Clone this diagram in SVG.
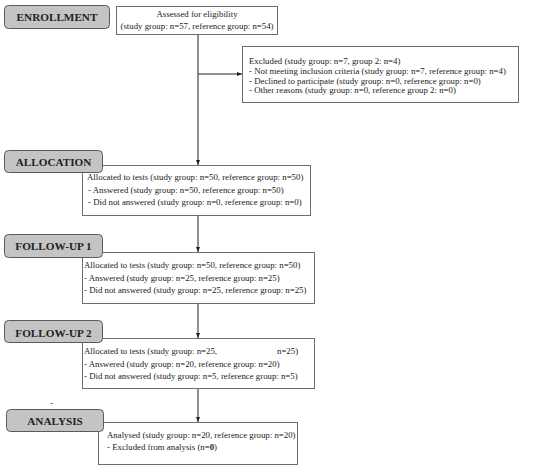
<svg xmlns="http://www.w3.org/2000/svg" width="550" height="468" viewBox="0 0 550 468">
<style>
.stage{fill:#c4c4c4;stroke:#5a5a5a;stroke-width:1}
.box{fill:#fff;stroke:#6e6e6e;stroke-width:1}
.h{font-family:"Liberation Serif","Times New Roman",serif;font-weight:bold;font-size:11.2px;fill:#222;text-anchor:middle}
.t{font-family:"Liberation Serif","Times New Roman",serif;font-size:8.8px;fill:#222}
.c{text-anchor:middle}
.ln{stroke:#222;stroke-width:1;fill:none}
</style>
<defs>
<marker id="ah" markerWidth="5" markerHeight="4" refX="5" refY="2" orient="auto" markerUnits="userSpaceOnUse">
<path d="M0,0 L5,2 L0,4 Z" fill="#222"/>
</marker>
</defs>
<rect width="550" height="468" fill="#fff"/>
<g id="connectors">
<line class="ln" x1="198" y1="35" x2="198" y2="165" marker-end="url(#ah)"/>
<line class="ln" x1="198" y1="74" x2="242" y2="74" marker-end="url(#ah)"/>
<line class="ln" x1="198" y1="216" x2="198" y2="252" marker-end="url(#ah)"/>
<line class="ln" x1="198" y1="304" x2="198" y2="338" marker-end="url(#ah)"/>
<line class="ln" x1="198" y1="389" x2="198" y2="422" marker-end="url(#ah)"/>
</g>
<g id="assessed">
<rect class="box" x="116.5" y="6.5" width="161" height="28"/>
<text class="t c" x="197" y="17">Assessed for eligibility</text>
<text class="t c" x="197" y="29">(study group: n=57, reference group: n=54)</text>
</g>
<g id="excluded">
<rect class="box" x="242.5" y="46.5" width="276" height="56"/>
<text class="t" x="249" y="64">Excluded  (study group: n=7, group 2: n=4)</text>
<text class="t" x="249" y="74">- Not meeting inclusion criteria (study group: n=7, reference group: n=4)</text>
<text class="t" x="249" y="83.5">- Declined to participate (study group: n=0, reference group: n=0)</text>
<text class="t" x="249" y="93">- Other reasons (study group: n=0, reference group 2: n=0)</text>
</g>
<g id="allocation-box">
<rect class="box" x="82.5" y="165.5" width="228" height="50"/>
<text class="t" x="87" y="180">Allocated to tests (study group: n=50, reference group: n=50)</text>
<text class="t" x="88" y="192.5"> - Answered (study group: n=50, reference group: n=50)</text>
<text class="t" x="88" y="205"> - Did not answered (study group: n=0, reference group: n=0)</text>
</g>
<g id="followup1-box">
<rect class="box" x="82.5" y="252.5" width="232" height="51"/>
<text class="t" x="84" y="268">Allocated to tests (study group: n=50, reference group: n=50)</text>
<text class="t" x="84" y="280.5">- Answered (study group: n=25, reference group: n=25)</text>
<text class="t" x="84" y="293">- Did not answered (study group: n=25, reference group: n=25)</text>
</g>
<g id="followup2-box">
<rect class="box" x="82.5" y="338.5" width="232" height="50"/>
<text class="t" x="84" y="354">Allocated to tests (study group: n=25,</text>
<text class="t" x="277" y="354">n=25)</text>
<text class="t" x="84" y="366.5">- Answered (study group: n=20, reference group: n=20)</text>
<text class="t" x="84" y="378.5">- Did not answered (study group: n=5, reference group: n=5)</text>
</g>
<g id="analysis-box">
<rect class="box" x="98.5" y="422.5" width="199" height="42"/>
<text class="t" x="107" y="438">Analysed  (study group: n=20, reference group: n=20)</text>
<text class="t" x="107" y="450">- Excluded from analysis (n=<tspan font-weight="bold">0</tspan>)</text>
</g>
<g id="enrollment">
<rect class="stage" x="4.5" y="5.5" width="105" height="23" rx="4"/>
<text class="h" x="57" y="20.5">ENROLLMENT</text>
</g>
<g id="allocation">
<rect class="stage" x="4.5" y="150.5" width="98" height="22" rx="4"/>
<text class="h" x="53.5" y="165.5">ALLOCATION</text>
</g>
<g id="followup1">
<rect class="stage" x="4.5" y="234.5" width="98" height="23" rx="4"/>
<text class="h" x="53.5" y="250">FOLLOW-UP 1</text>
</g>
<g id="followup2">
<rect class="stage" x="4.5" y="320.5" width="98" height="22" rx="4"/>
<text class="h" x="53.5" y="336.5">FOLLOW-UP 2</text>
</g>
<g id="analysis">
<rect class="stage" x="6.5" y="409.5" width="97" height="22" rx="4"/>
<text class="h" x="55" y="424.5">ANALYSIS</text>
</g>
<text class="t" x="50" y="406">-</text>
</svg>
